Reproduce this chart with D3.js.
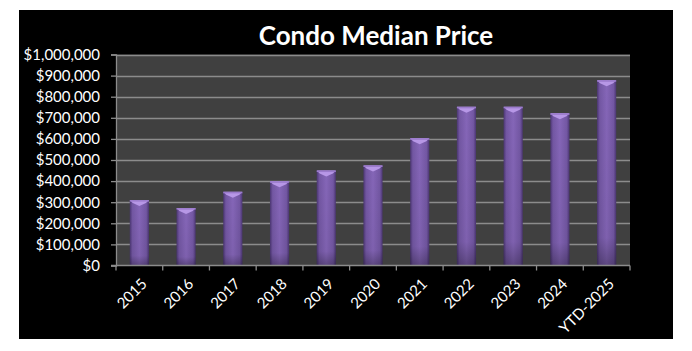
<!DOCTYPE html>
<html>
<head>
<meta charset="utf-8">
<script src="https://cdn.jsdelivr.net/npm/d3@7"></script>
<style>
  body { margin: 0; background: #fff; }
  svg { display: block; }
</style>
</head>
<body>
<svg id="chart"></svg>
<script>
// chart data
const categories = ["2015", "2016", "2017", "2018", "2019", "2020", "2021", "2022", "2023", "2024", "YTD-2025"];
const medianPrice = [310000, 272000, 349000, 399000, 450000, 474000, 603000, 752000, 752000, 721000, 878000];
const yTicks = [0, 100000, 200000, 300000, 400000, 500000, 600000, 700000, 800000, 900000, 1000000];

const width = 692, height = 351;
const margin = {top: 54.5, right: 62, bottom: 85.5, left: 116};

const svg = d3.select("#chart")
    .attr("width", width)
    .attr("height", height);

// black chart frame
svg.append("rect")
    .attr("x", 19).attr("y", 10)
    .attr("width", 654).attr("height", 329)
    .attr("fill", "#000");

const defs = svg.append("defs");
const bodyGrad = defs.append("linearGradient")
    .attr("id", "barBody")
    .attr("x1", "0%").attr("x2", "100%").attr("y1", "0%").attr("y2", "0%");
bodyGrad.append("stop").attr("offset", "0%").attr("stop-color", "#4b3672");
bodyGrad.append("stop").attr("offset", "14%").attr("stop-color", "#7357a3");
bodyGrad.append("stop").attr("offset", "50%").attr("stop-color", "#8566b8");
bodyGrad.append("stop").attr("offset", "86%").attr("stop-color", "#7357a3");
bodyGrad.append("stop").attr("offset", "100%").attr("stop-color", "#4b3672");

const shadeGrad = defs.append("linearGradient")
    .attr("id", "barShade")
    .attr("x1", "0%").attr("x2", "0%").attr("y1", "0%").attr("y2", "100%");
shadeGrad.append("stop").attr("offset", "0%").attr("stop-color", "#000").attr("stop-opacity", 0);
shadeGrad.append("stop").attr("offset", "85%").attr("stop-color", "#000").attr("stop-opacity", 0.05);
shadeGrad.append("stop").attr("offset", "100%").attr("stop-color", "#000").attr("stop-opacity", 0.3);

const innerW = width - margin.left - margin.right;
const innerH = height - margin.top - margin.bottom;

const x = d3.scaleBand()
    .domain(categories)
    .range([margin.left, margin.left + innerW])
    .paddingInner(0.59)
    .paddingOuter(0.295);

const y = d3.scaleLinear()
    .domain([0, 1000000])
    .range([margin.top + innerH, margin.top]);

// plot background
svg.append("rect")
    .attr("x", margin.left).attr("y", margin.top)
    .attr("width", innerW).attr("height", innerH)
    .attr("fill", "#404040");

// gridlines
svg.append("g")
    .selectAll("line")
    .data(yTicks.slice(1))
    .join("line")
    .attr("x1", margin.left).attr("x2", margin.left + innerW)
    .attr("y1", d => Math.round(y(d)) + 0.5).attr("y2", d => Math.round(y(d)) + 0.5)
    .attr("stroke", "#8c8c8c")
    .attr("stroke-width", 1.3);

// bars
const bars = svg.append("g")
    .selectAll("g")
    .data(medianPrice)
    .join("g");

bars.append("rect")
    .attr("x", (d, i) => x(categories[i]))
    .attr("y", d => y(d))
    .attr("width", x.bandwidth())
    .attr("height", d => y(0) - y(d))
    .attr("fill", "url(#barBody)");

bars.append("rect")
    .attr("x", (d, i) => x(categories[i]))
    .attr("y", d => y(d))
    .attr("width", x.bandwidth())
    .attr("height", d => y(0) - y(d))
    .attr("fill", "url(#barShade)");

// beveled top cap
bars.append("path")
    .attr("d", (d, i) => {
        const x0 = x(categories[i]), w = x.bandwidth(), t = y(d);
        return `M${x0},${t} L${x0 + w},${t} L${x0 + w - 3},${t + 3} L${x0 + w / 2},${t + 6} L${x0 + 3},${t + 3} Z`;
    })
    .attr("fill", "#b797e6");

bars.append("rect")
    .attr("x", (d, i) => x(categories[i]))
    .attr("y", d => y(d))
    .attr("width", x.bandwidth())
    .attr("height", 1.5)
    .attr("fill", "#9b7bcc");

// y axis
const yAxis = svg.append("g")
    .attr("transform", `translate(${margin.left},0)`)
    .call(d3.axisLeft(y)
        .tickValues(yTicks)
        .tickSize(5)
        .tickPadding(11)
        .tickFormat(d => "$" + d3.format(",")(d)));
yAxis.select(".domain").attr("stroke", "#8c8c8c").attr("stroke-width", 1.3);
yAxis.selectAll(".tick line").attr("stroke", "#8c8c8c").attr("stroke-width", 1.3);
yAxis.selectAll("text")
    .attr("fill", "#fff")
    .style("font-family", "Lato, 'Open Sans', sans-serif")
    .style("font-size", "15px");

// x axis: ticks at band boundaries
const boundaries = d3.range(categories.length + 1).map(i => margin.left + i * innerW / categories.length);

const xg = svg.append("g");
xg.append("line")
    .attr("x1", margin.left - 5).attr("x2", margin.left + innerW)
    .attr("y1", y(0)).attr("y2", y(0))
    .attr("stroke", "#8c8c8c").attr("stroke-width", 1.5);
xg.selectAll("line.tick")
    .data(boundaries)
    .join("line")
    .attr("class", "tick")
    .attr("x1", d => d).attr("x2", d => d)
    .attr("y1", y(0)).attr("y2", y(0) + 5)
    .attr("stroke", "#8c8c8c").attr("stroke-width", 1.3);

xg.selectAll("text")
    .data(categories)
    .join("text")
    .attr("transform", d => `translate(${x(d) + x.bandwidth() / 2 + 1},${y(0) + 12}) rotate(-45)`)
    .attr("text-anchor", "end")
    .attr("dy", "0.7em")
    .attr("fill", "#fff")
    .style("font-family", "Lato, 'Open Sans', sans-serif")
    .style("font-size", "15px")
    .text(d => d);

// title
svg.append("text")
    .attr("x", 376)
    .attr("y", 45)
    .attr("text-anchor", "middle")
    .attr("fill", "#fff")
    .style("font-family", "Lato, 'Open Sans', sans-serif")
    .style("font-weight", "bold")
    .style("font-size", "26px")
    .text("Condo Median Price");
</script>
</body>
</html>
